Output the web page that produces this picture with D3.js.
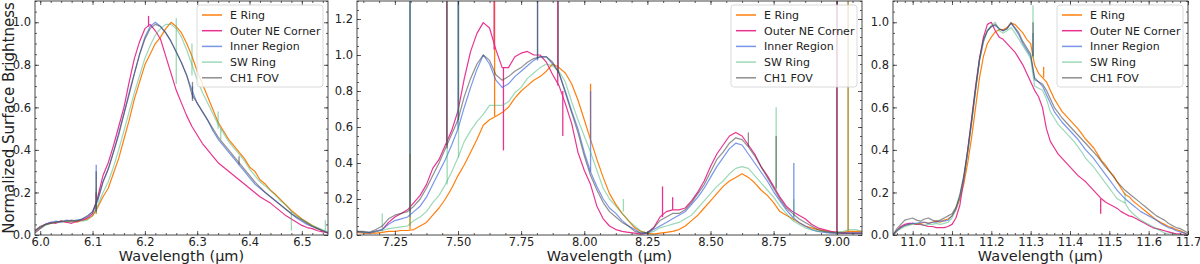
<!DOCTYPE html>
<html>
<head>
<meta charset="utf-8">
<script src="https://cdn.jsdelivr.net/npm/d3@7"></script>
<style>
  body { margin: 0; background: #fff; }
  text { font-family: "DejaVu Sans", sans-serif; fill: #222; }
</style>
</head>
<body>
<svg id="chart" width="1200" height="264"></svg>
<script>
// series (plot + legend order)
var seriesNames = ["E Ring", "Outer NE Corner", "Inner Region", "SW Ring", "CH1 FOV"];
var seriesColors = ["#ff7f0e", "#e7298a", "#4169e1", "#3cb371", "#444444"];
var seriesAlpha = [1, 0.95, 0.7, 0.5, 0.6];

// ---- panel 1: 6.2 um band ----
var wl1 = [5.99,6.00,6.01,6.02,6.03,6.04,6.05,6.06,6.07,6.08,
  6.09,6.10,6.11,6.12,6.13,6.14,6.15,6.16,6.17,6.18,
  6.19,6.20,6.21,6.22,6.23,6.24,6.25,6.26,6.27,6.28,
  6.29,6.30,6.31,6.32,6.33,6.34,6.35,6.36,6.37,6.38,
  6.39,6.40,6.41,6.42,6.43,6.44,6.45,6.46,6.47,6.48,
  6.49,6.50,6.51,6.52,6.53,6.54,6.55];
var eRing1 = [0.02,0.04,0.05,0.055,0.06,0.065,0.06,0.065,0.06,0.07,
  0.075,0.09,0.13,0.18,0.22,0.29,0.36,0.45,0.54,0.64,
  0.72,0.80,0.85,0.90,0.93,0.97,1.00,0.98,0.95,0.90,
  0.84,0.77,0.71,0.65,0.59,0.53,0.49,0.45,0.42,0.39,
  0.36,0.32,0.30,0.26,0.24,0.21,0.19,0.165,0.14,0.115,
  0.095,0.075,0.06,0.045,0.03,0.02,0.01];
var outerNE1 = [0.01,0.03,0.05,0.06,0.055,0.065,0.06,0.055,0.065,0.07,
  0.08,0.10,0.18,0.28,0.34,0.42,0.51,0.60,0.72,0.83,
  0.91,0.97,0.99,0.96,0.92,0.84,0.76,0.68,0.62,0.56,
  0.51,0.47,0.43,0.40,0.37,0.34,0.32,0.30,0.28,0.26,
  0.24,0.22,0.20,0.18,0.165,0.15,0.13,0.11,0.09,0.075,
  0.06,0.045,0.035,0.03,0.02,0.015,0.01];
var inner1 = [0.02,0.04,0.05,0.06,0.065,0.06,0.07,0.065,0.07,0.075,
  0.085,0.11,0.16,0.25,0.31,0.39,0.48,0.57,0.67,0.76,
  0.85,0.93,0.98,1.00,0.98,0.95,0.91,0.86,0.81,0.75,
  0.68,0.62,0.58,0.54,0.49,0.45,0.42,0.39,0.36,0.33,
  0.30,0.27,0.24,0.22,0.20,0.18,0.16,0.14,0.12,0.10,
  0.08,0.065,0.05,0.04,0.03,0.02,0.01];
var swRing1 = [0.01,0.03,0.045,0.055,0.06,0.06,0.065,0.06,0.07,0.065,
  0.07,0.09,0.14,0.20,0.25,0.32,0.40,0.49,0.58,0.67,
  0.75,0.83,0.89,0.94,0.97,0.99,0.99,0.97,0.93,0.87,
  0.80,0.73,0.67,0.62,0.57,0.52,0.48,0.44,0.41,0.38,
  0.35,0.31,0.28,0.25,0.23,0.21,0.185,0.16,0.14,0.11,
  0.09,0.075,0.06,0.045,0.035,0.025,0.015];
var ch1fov1 = [0.02,0.035,0.05,0.055,0.06,0.065,0.065,0.07,0.065,0.075,
  0.09,0.11,0.17,0.25,0.31,0.39,0.47,0.57,0.66,0.76,
  0.85,0.92,0.97,0.99,0.98,0.95,0.91,0.86,0.81,0.75,
  0.66,0.62,0.58,0.54,0.50,0.46,0.43,0.40,0.37,0.34,
  0.31,0.28,0.25,0.225,0.20,0.18,0.16,0.14,0.12,0.10,
  0.085,0.07,0.055,0.04,0.03,0.02,0.01];
// narrow features: [series index, wavelength, from, to]
var spikes1 = [[0,6.107,0.10,0.20],[1,6.107,0.12,0.20],[2,6.107,0.11,0.33],[3,6.107,0.10,0.22],[4,6.107,0.11,0.30],
  [1,6.207,0.98,1.03],[3,6.26,0.71,1.02],[3,6.29,0.75,0.90],[4,6.291,0.63,0.72],[2,6.291,0.64,0.70],
  [3,6.34,0.50,0.58],[3,6.345,0.45,0.50],[4,6.38,0.33,0.37],[3,6.48,0.02,0.11],[3,6.545,0.02,0.07]];
var xTicks1 = [6.0, 6.1, 6.2, 6.3, 6.4, 6.5];

// ---- panel 2: 7.7 and 8.6 um bands ----
var wl2 = [7.100,7.125,7.150,7.175,7.200,7.225,7.250,7.275,7.300,7.325,
  7.350,7.375,7.400,7.425,7.450,7.475,7.500,7.525,7.550,7.575,
  7.600,7.625,7.650,7.675,7.700,7.725,7.750,7.775,7.800,7.825,
  7.850,7.875,7.900,7.925,7.950,7.975,8.000,8.025,8.050,8.075,
  8.100,8.125,8.150,8.175,8.200,8.225,8.250,8.275,8.300,8.325,
  8.350,8.375,8.400,8.425,8.450,8.475,8.500,8.525,8.550,8.575,
  8.600,8.625,8.650,8.675,8.700,8.725,8.750,8.775,8.800,8.825,
  8.850,8.875,8.900,8.925,8.950,8.975,9.000,9.025,9.050,9.075,
  9.100];
var eRing2 = [0.015,0.01,0.01,0.01,0.015,0.02,0.02,0.025,0.025,0.03,
  0.05,0.07,0.11,0.15,0.20,0.26,0.33,0.39,0.46,0.53,
  0.61,0.64,0.66,0.68,0.71,0.76,0.80,0.83,0.86,0.88,
  0.91,0.95,0.93,0.90,0.84,0.75,0.64,0.53,0.42,0.32,
  0.23,0.17,0.12,0.08,0.04,0.02,0.01,0.005,0.01,0.015,
  0.02,0.03,0.05,0.08,0.11,0.15,0.19,0.23,0.27,0.30,
  0.32,0.34,0.32,0.29,0.25,0.22,0.18,0.13,0.11,0.09,
  0.07,0.05,0.04,0.03,0.025,0.02,0.015,0.015,0.02,0.02,
  0.02];
var outerNE2 = [0.02,0.015,0.01,0.02,0.03,0.07,0.10,0.12,0.14,0.18,
  0.22,0.28,0.37,0.42,0.50,0.58,0.69,0.87,1.02,1.12,
  1.18,1.15,1.03,0.93,0.93,0.99,1.01,1.02,1.00,1.00,
  0.96,0.89,0.83,0.73,0.62,0.46,0.36,0.28,0.16,0.09,
  0.05,0.03,0.02,0.015,0.01,0.005,0.01,0.04,0.10,0.13,
  0.14,0.14,0.15,0.19,0.24,0.30,0.38,0.45,0.50,0.55,
  0.57,0.55,0.50,0.45,0.38,0.33,0.27,0.21,0.16,0.13,
  0.11,0.09,0.06,0.04,0.03,0.02,0.015,0.01,0.01,0.01,
  0.01];
var inner2 = [0.02,0.015,0.015,0.02,0.03,0.06,0.08,0.09,0.10,0.13,
  0.16,0.21,0.28,0.35,0.42,0.50,0.59,0.71,0.82,0.92,
  1.00,0.95,0.86,0.82,0.84,0.88,0.91,0.94,0.97,0.99,
  0.99,0.95,0.90,0.80,0.69,0.59,0.46,0.35,0.27,0.20,
  0.15,0.12,0.08,0.05,0.03,0.01,0.01,0.03,0.05,0.07,
  0.09,0.11,0.13,0.17,0.21,0.26,0.32,0.38,0.43,0.48,
  0.51,0.50,0.45,0.40,0.35,0.30,0.24,0.19,0.14,0.10,
  0.07,0.05,0.03,0.02,0.015,0.01,0.01,0.01,0.01,0.01,
  0.01];
var swRing2 = [0.02,0.015,0.01,0.02,0.025,0.035,0.04,0.045,0.05,0.08,
  0.10,0.13,0.18,0.22,0.28,0.35,0.43,0.52,0.58,0.63,
  0.67,0.72,0.72,0.72,0.74,0.79,0.82,0.87,0.90,0.93,
  0.95,0.94,0.91,0.85,0.74,0.64,0.55,0.46,0.36,0.26,
  0.20,0.16,0.12,0.08,0.05,0.02,0.01,0.02,0.04,0.05,
  0.06,0.07,0.09,0.11,0.15,0.19,0.23,0.27,0.30,0.34,
  0.37,0.38,0.37,0.33,0.29,0.25,0.21,0.16,0.12,0.08,
  0.06,0.04,0.03,0.02,0.02,0.015,0.015,0.02,0.03,0.03,
  0.02];
var ch1fov2 = [0.02,0.02,0.015,0.03,0.05,0.09,0.11,0.12,0.13,0.16,
  0.20,0.26,0.33,0.40,0.48,0.56,0.64,0.77,0.87,0.95,
  1.00,0.97,0.89,0.86,0.88,0.91,0.93,0.96,0.98,0.99,
  0.99,0.96,0.90,0.79,0.68,0.57,0.44,0.33,0.25,0.18,
  0.13,0.10,0.07,0.05,0.02,0.01,0.015,0.04,0.08,0.10,
  0.12,0.12,0.14,0.18,0.23,0.28,0.35,0.42,0.46,0.51,
  0.54,0.53,0.49,0.44,0.38,0.32,0.26,0.20,0.15,0.12,
  0.09,0.07,0.05,0.03,0.02,0.015,0.01,0.01,0.01,0.01,
  0.01];
var spikes2 = [[3,7.20,0.02,0.12],
  [2,7.31,0.10,1.4],[3,7.31,0.05,1.4],[4,7.31,0.13,1.4],[0,7.31,0.03,0.45],
  [1,7.455,0.50,1.4],[3,7.457,0.28,1.4],[4,7.457,0.48,1.4],
  [2,7.50,0.59,1.4],[3,7.502,0.43,1.4],[4,7.502,0.64,1.4],
  [1,7.643,1.03,1.4],[0,7.645,0.66,1.4],[1,7.68,0.93,0.47],
  [2,7.815,0.97,1.4],[4,7.815,0.98,1.4],
  [1,7.895,0.83,1.4],[4,7.897,0.90,1.4],[1,7.915,0.80,0.55],
  [0,8.025,0.53,0.84],[2,8.025,0.35,0.80],[3,8.155,0.13,0.20],
  [1,8.31,0.10,0.27],[1,8.35,0.14,0.21],[4,8.65,0.49,0.57],
  [3,8.76,0.25,0.71],[4,8.76,0.26,0.55],[2,8.83,0.10,0.40],[3,8.83,0.08,0.20],
  [1,9.00,0.015,1.4],[4,9.002,0.01,1.4],[3,9.045,0.03,1.4],[0,9.045,0.02,1.4]];
var xTicks2 = [7.25, 7.50, 7.75, 8.00, 8.25, 8.50, 8.75, 9.00];

// ---- panel 3: 11.2 um band ----
var wl3 = [10.95,10.96,10.97,10.98,10.99,11.00,11.01,11.02,11.03,11.04,
  11.05,11.06,11.07,11.08,11.09,11.10,11.11,11.12,11.13,11.14,
  11.15,11.16,11.17,11.18,11.19,11.20,11.21,11.22,11.23,11.24,
  11.25,11.26,11.27,11.28,11.29,11.30,11.31,11.32,11.33,11.34,
  11.35,11.36,11.37,11.38,11.39,11.40,11.41,11.42,11.43,11.44,
  11.45,11.46,11.47,11.48,11.49,11.50,11.51,11.52,11.53,11.54,
  11.55,11.56,11.57,11.58,11.59,11.60,11.61,11.62,11.63,11.64,
  11.65,11.66,11.67,11.68,11.69,11.70];
var eRing3 = [0.00,0.02,0.035,0.045,0.05,0.055,0.05,0.055,0.06,0.055,
  0.06,0.065,0.06,0.07,0.075,0.09,0.12,0.17,0.24,0.34,
  0.46,0.60,0.74,0.84,0.90,0.93,0.955,0.965,0.965,0.975,
  0.995,0.99,0.97,0.95,0.92,0.90,0.80,0.76,0.74,0.72,
  0.68,0.64,0.61,0.58,0.56,0.54,0.52,0.50,0.475,0.45,
  0.43,0.41,0.38,0.35,0.33,0.30,0.28,0.25,0.22,0.19,
  0.18,0.16,0.145,0.13,0.115,0.10,0.085,0.07,0.06,0.05,
  0.04,0.035,0.025,0.02,0.01,0.00];
var outerNE3 = [0.00,0.02,0.04,0.05,0.055,0.055,0.05,0.05,0.045,0.04,
  0.04,0.035,0.035,0.035,0.04,0.05,0.08,0.14,0.26,0.40,
  0.55,0.70,0.83,0.93,0.99,1.00,0.96,0.93,0.92,0.90,
  0.88,0.86,0.83,0.80,0.76,0.72,0.68,0.65,0.60,0.50,
  0.44,0.41,0.38,0.36,0.34,0.32,0.30,0.28,0.265,0.25,
  0.23,0.21,0.19,0.17,0.155,0.145,0.135,0.125,0.11,0.10,
  0.09,0.085,0.075,0.065,0.055,0.045,0.035,0.03,0.025,0.02,
  0.015,0.01,0.005,0.005,0.00,0.00];
var inner3 = [0.00,0.02,0.035,0.045,0.05,0.055,0.055,0.06,0.06,0.055,
  0.06,0.06,0.065,0.065,0.07,0.09,0.125,0.18,0.27,0.39,
  0.53,0.68,0.82,0.91,0.96,0.98,0.985,0.97,0.96,0.97,
  0.995,0.97,0.94,0.90,0.87,0.84,0.73,0.72,0.70,0.66,
  0.62,0.58,0.555,0.53,0.51,0.49,0.47,0.45,0.425,0.40,
  0.38,0.36,0.335,0.31,0.285,0.26,0.235,0.21,0.19,0.17,
  0.155,0.14,0.125,0.11,0.10,0.09,0.08,0.07,0.055,0.045,
  0.035,0.03,0.02,0.015,0.01,0.00];
var swRing3 = [0.00,0.02,0.03,0.04,0.045,0.05,0.055,0.05,0.045,0.05,
  0.05,0.055,0.05,0.055,0.06,0.08,0.12,0.18,0.27,0.39,
  0.53,0.68,0.82,0.91,0.96,0.985,1.00,0.96,0.95,0.96,
  0.975,0.95,0.92,0.89,0.86,0.83,0.70,0.69,0.68,0.64,
  0.58,0.55,0.52,0.50,0.48,0.46,0.44,0.415,0.39,0.36,
  0.34,0.32,0.295,0.27,0.245,0.22,0.195,0.17,0.16,0.15,
  0.12,0.10,0.085,0.07,0.06,0.05,0.04,0.03,0.02,0.01,
  0.005,0.005,0.00,0.00,0.00,0.00];
var ch1fov3 = [0.00,0.03,0.05,0.07,0.075,0.08,0.07,0.065,0.075,0.08,
  0.07,0.065,0.07,0.08,0.09,0.10,0.13,0.19,0.28,0.40,
  0.54,0.69,0.83,0.92,0.96,0.98,0.99,0.97,0.96,0.97,
  1.00,0.975,0.95,0.91,0.88,0.85,0.74,0.72,0.71,0.68,
  0.64,0.60,0.575,0.55,0.53,0.51,0.49,0.47,0.45,0.43,
  0.41,0.39,0.37,0.345,0.32,0.30,0.275,0.25,0.23,0.21,
  0.195,0.18,0.165,0.15,0.135,0.12,0.105,0.09,0.08,0.07,
  0.055,0.045,0.035,0.03,0.02,0.01];
var spikes3 = [[3,11.306,0.83,1.08],[4,11.306,0.84,1.00],[2,11.306,0.84,0.95],
  [0,11.333,0.74,0.79],[1,11.478,0.17,0.10],[3,11.54,0.15,0.20]];
var xTicks3 = [11.0, 11.1, 11.2, 11.3, 11.4, 11.5, 11.6, 11.7];

var yTicksA = [0.0, 0.2, 0.4, 0.6, 0.8, 1.0];
var yTicksB = [0.0, 0.2, 0.4, 0.6, 0.8, 1.0, 1.2];

// layout of the three panels
var plotTop = 1, plotBottom = 235;
var panels = [
  {wl: wl1, ys: [eRing1, outerNE1, inner1, swRing1, ch1fov1], spikes: spikes1,
   left: 35, right: 328, xDomain: [5.99, 6.55], yMax: 1.1, xTicks: xTicks1, xMinor: 0.02,
   yTicks: yTicksA, xFmt: ".1f", ylabel: true},
  {wl: wl2, ys: [eRing2, outerNE2, inner2, swRing2, ch1fov2], spikes: spikes2,
   left: 357, right: 862, xDomain: [7.1, 9.1], yMax: 1.3, xTicks: xTicks2, xMinor: 0.0625,
   yTicks: yTicksB, xFmt: ".2f", ylabel: false},
  {wl: wl3, ys: [eRing3, outerNE3, inner3, swRing3, ch1fov3], spikes: spikes3,
   left: 893, right: 1188, xDomain: [10.95, 11.7], yMax: 1.1, xTicks: xTicks3, xMinor: 0.02,
   yTicks: yTicksA, xFmt: ".1f", ylabel: false}
];

var svg = d3.select("#chart");

panels.forEach(function(p, pi) {
  var x = d3.scaleLinear().domain(p.xDomain).range([p.left, p.right]);
  var y = d3.scaleLinear().domain([0, p.yMax]).range([plotBottom, plotTop]);

  svg.append("clipPath").attr("id", "clip" + pi)
    .append("rect")
      .attr("x", p.left).attr("y", plotTop)
      .attr("width", p.right - p.left).attr("height", plotBottom - plotTop);

  var plot = svg.append("g").attr("clip-path", "url(#clip" + pi + ")");

  var line = d3.line()
    .x(function(d) { return x(d[0]); })
    .y(function(d) { return y(d[1]); });

  p.ys.forEach(function(vals, si) {
    var pts = p.wl.map(function(w, i) { return [w, vals[i]]; });
    plot.append("path")
      .datum(pts)
      .attr("d", line)
      .attr("fill", "none")
      .attr("stroke", seriesColors[si])
      .attr("stroke-opacity", seriesAlpha[si])
      .attr("stroke-width", 1.2)
      .attr("stroke-linejoin", "round");
    p.spikes.filter(function(s) { return s[0] == si; }).forEach(function(s) {
      plot.append("line")
        .attr("x1", x(s[1])).attr("x2", x(s[1]))
        .attr("y1", y(s[2])).attr("y2", y(s[3]))
        .attr("stroke", seriesColors[si])
        .attr("stroke-opacity", seriesAlpha[si])
        .attr("stroke-width", 1.3);
    });
  });

  // minor tick positions
  var xMin = d3.range(Math.ceil(p.xDomain[0] / p.xMinor - 1e-6), Math.floor(p.xDomain[1] / p.xMinor + 1e-6) + 1)
    .map(function(k) { return k * p.xMinor; });
  var yMin = d3.range(0, Math.floor(p.yMax / 0.05 + 1e-6) + 1).map(function(k) { return k * 0.05; });

  // axes, inward ticks on all sides
  var gx = svg.append("g").attr("transform", "translate(0," + plotBottom + ")");
  gx.call(d3.axisBottom(x).tickValues(xMin).tickSizeInner(-2).tickSizeOuter(0).tickFormat(""));
  var gx2 = svg.append("g").attr("transform", "translate(0," + plotBottom + ")");
  gx2.call(d3.axisBottom(x).tickValues(p.xTicks).tickSizeInner(-4).tickSizeOuter(0)
    .tickPadding(3).tickFormat(d3.format(p.xFmt)));

  var gt = svg.append("g").attr("transform", "translate(0," + plotTop + ")");
  gt.call(d3.axisTop(x).tickValues(xMin).tickSizeInner(-2).tickSizeOuter(0).tickFormat(""));
  var gt2 = svg.append("g").attr("transform", "translate(0," + plotTop + ")");
  gt2.call(d3.axisTop(x).tickValues(p.xTicks).tickSizeInner(-4).tickSizeOuter(0).tickFormat(""));

  var gy = svg.append("g").attr("transform", "translate(" + p.left + ",0)");
  gy.call(d3.axisLeft(y).tickValues(yMin).tickSizeInner(-2).tickSizeOuter(0).tickFormat(""));
  var gy2 = svg.append("g").attr("transform", "translate(" + p.left + ",0)");
  gy2.call(d3.axisLeft(y).tickValues(p.yTicks).tickSizeInner(-4).tickSizeOuter(0)
    .tickPadding(4).tickFormat(d3.format(".1f")));

  var gr = svg.append("g").attr("transform", "translate(" + p.right + ",0)");
  gr.call(d3.axisRight(y).tickValues(yMin).tickSizeInner(-2).tickSizeOuter(0).tickFormat(""));
  var gr2 = svg.append("g").attr("transform", "translate(" + p.right + ",0)");
  gr2.call(d3.axisRight(y).tickValues(p.yTicks).tickSizeInner(-4).tickSizeOuter(0).tickFormat(""));

  svg.selectAll(".domain").remove();
  svg.selectAll(".tick line").attr("stroke", "#333").attr("stroke-width", 0.8);
  svg.selectAll(".tick text").style("font-size", "11.5px").attr("fill", "#222");

  // frame
  svg.append("rect")
    .attr("x", p.left).attr("y", plotTop)
    .attr("width", p.right - p.left).attr("height", plotBottom - plotTop)
    .attr("fill", "none").attr("stroke", "#333").attr("stroke-width", 0.9);

  svg.append("text")
    .attr("x", (p.left + p.right) / 2).attr("y", 260.5)
    .attr("text-anchor", "middle")
    .style("font-size", "14.5px")
    .text("Wavelength (\u00b5m)");

  if (p.ylabel) {
    svg.append("text")
      .attr("transform", "translate(9," + ((plotTop + plotBottom) / 2) + ") rotate(-90)")
      .attr("text-anchor", "middle")
      .attr("dy", "0.35em")
      .style("font-size", "15px")
      .text("Normalized Surface Brightness");
  }

  // legend
  var lw = 126, lh = 82;
  var lg = svg.append("g").attr("transform", "translate(" + (p.right - 5 - lw) + "," + (plotTop + 4) + ")");
  lg.append("rect")
    .attr("width", lw).attr("height", lh).attr("rx", 3)
    .attr("fill", "#fff").attr("fill-opacity", 0.8)
    .attr("stroke", "#d0d0d0").attr("stroke-width", 0.8);
  seriesNames.forEach(function(name, si) {
    var yy = 10 + si * 15.7;
    lg.append("line")
      .attr("x1", 5).attr("x2", 25).attr("y1", yy).attr("y2", yy)
      .attr("stroke", seriesColors[si]).attr("stroke-opacity", seriesAlpha[si])
      .attr("stroke-width", 1.5);
    lg.append("text")
      .attr("x", 33).attr("y", yy).attr("dy", "0.35em")
      .style("font-size", "11px")
      .text(name);
  });
});
</script>
</body>
</html>
